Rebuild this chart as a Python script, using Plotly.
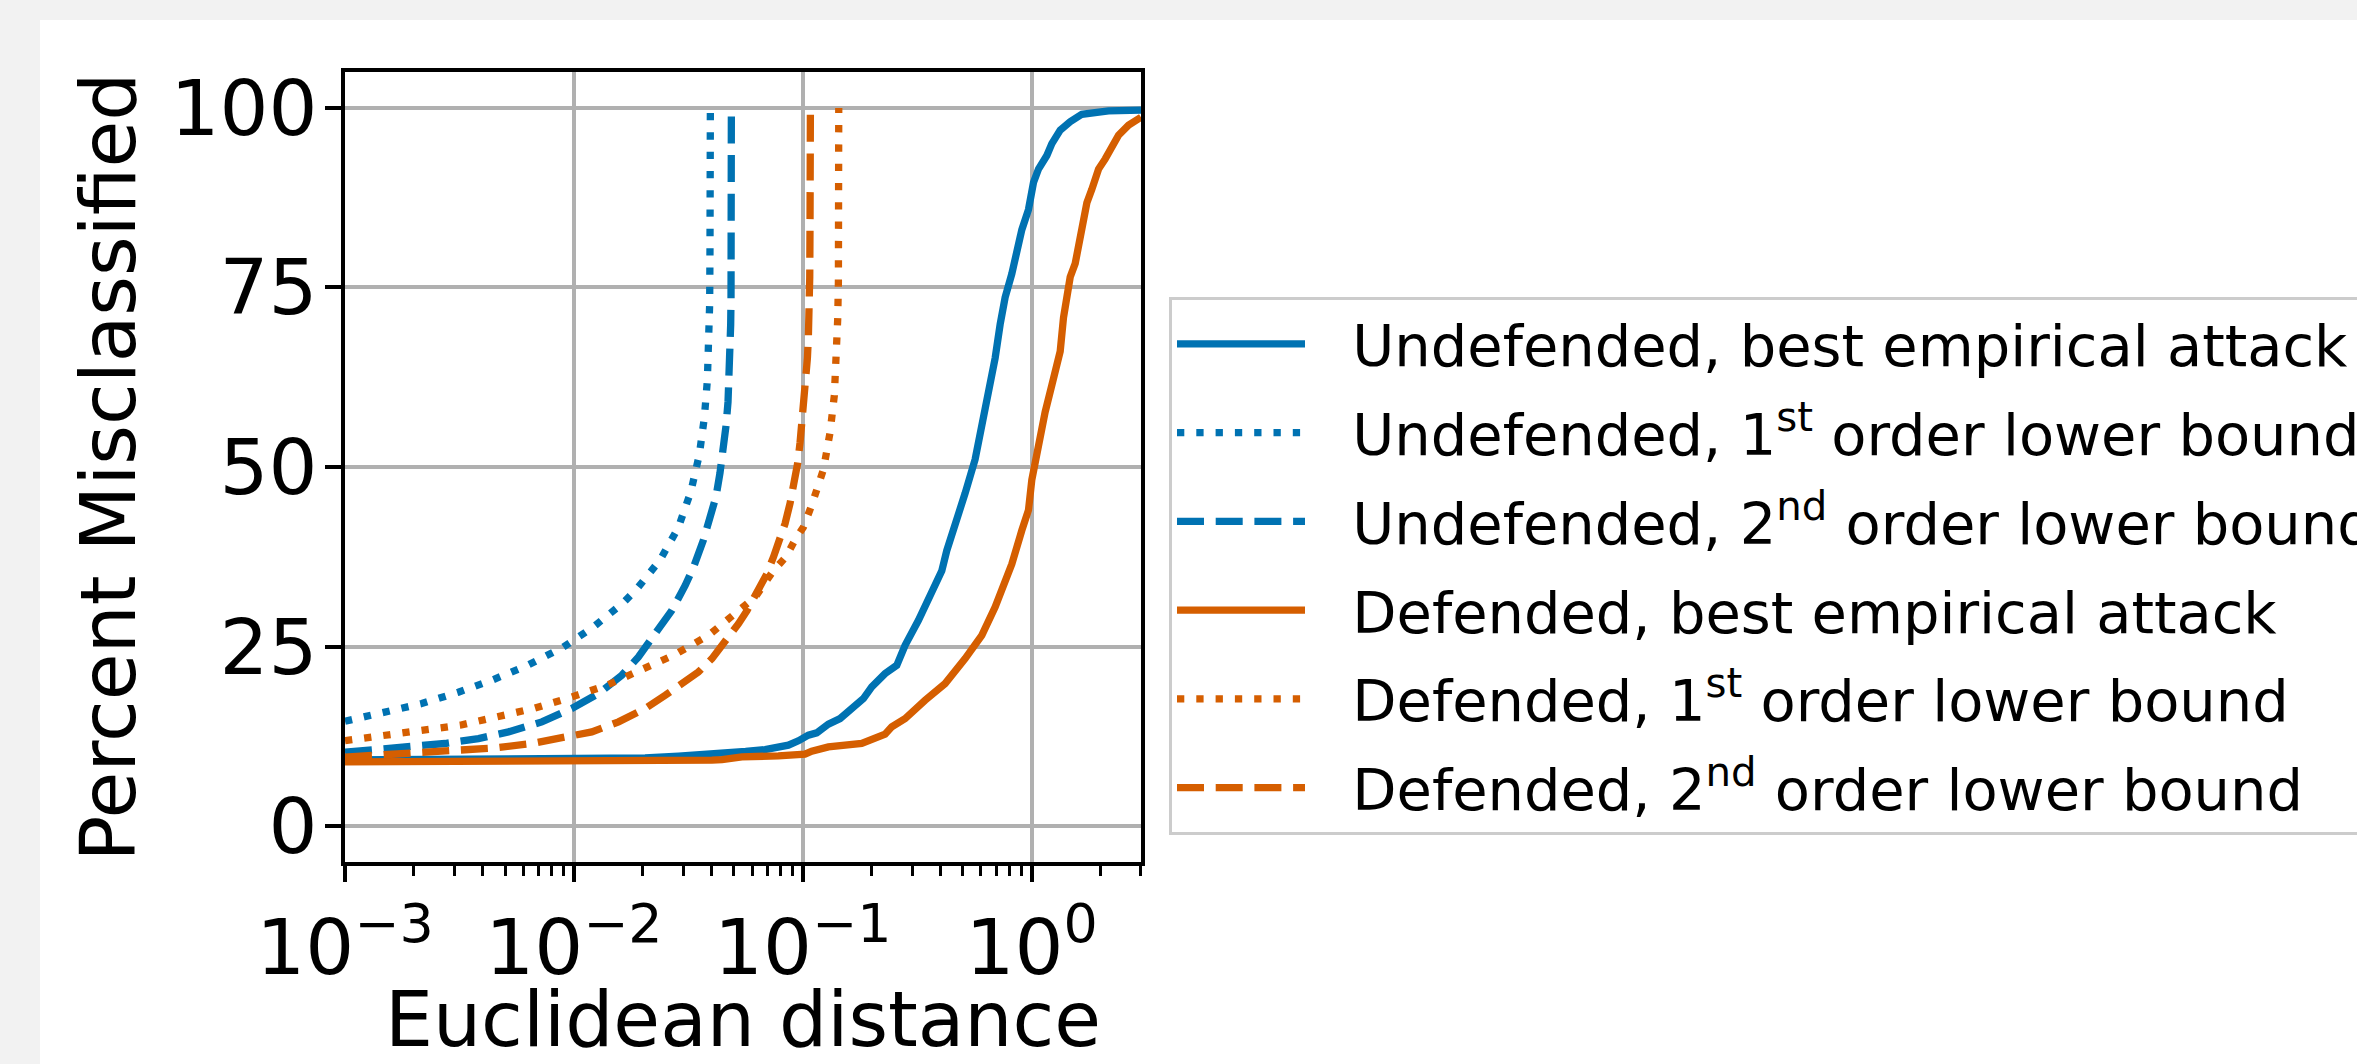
import plotly.graph_objects as go

# ---------------- data ----------------
undef_emp_x = [0.001, 0.005346, 0.01047, 0.02046, 0.02864, 0.04009, 0.0542, 0.05623, 0.06837, 0.08645,
               0.0956, 0.1057, 0.115, 0.1293, 0.1454, 0.1635, 0.1839, 0.2, 0.2287, 0.2572, 0.2797,
               0.3199, 0.3719, 0.4046, 0.4254, 0.4626, 0.5116, 0.5656, 0.605, 0.6578, 0.6919, 0.7276,
               0.7652, 0.8183, 0.8603, 0.9049, 0.9676, 1.0176, 1.07, 1.164, 1.224, 1.331, 1.472, 1.655,
               2.165, 2.928, 3.0]
undef_emp_y = [9.2, 9.27, 9.27, 9.5, 9.74, 10.01, 10.2, 10.4, 10.66, 11.27,
               11.87, 12.66, 12.98, 14.19, 14.97, 16.37, 17.76, 19.38, 21.23, 22.39, 25.17,
               28.65, 32.82, 35.54, 38.36, 41.65, 46.35, 51.05, 55.76, 60.46, 65.16, 69.86,
               73.62, 76.91, 80.21, 83.03, 85.85, 89.61, 91.49, 93.37, 95.02, 96.9, 98.07, 99.11,
               99.58, 99.67, 99.7]

undef_1st_x = [0.001, 0.001496, 0.002163, 0.003126, 0.004446, 0.006324, 0.008913, 0.01216, 0.01637,
               0.01871, 0.02377, 0.02858, 0.03243, 0.03532, 0.03715, 0.03828, 0.0389, 0.03917, 0.0393,
               0.03944, 0.03945]
undef_1st_y = [14.6, 15.76, 17.06, 18.64, 20.4, 22.44, 24.85, 27.72, 31.06,
               32.92, 37.04, 41.56, 46.59, 51.76, 56.93, 62.1, 67.28, 72.68, 80.44,
               88.43, 100.0]

undef_2nd_x = [0.001, 0.0014, 0.001954, 0.002735, 0.003828, 0.005176, 0.007244, 0.009795, 0.0128,
               0.01618, 0.01914, 0.02265, 0.02679, 0.03062, 0.03327, 0.03674, 0.0393, 0.04176, 0.04346,
               0.04495, 0.04618, 0.04711, 0.04775, 0.04807, 0.0484, 0.04856, 0.04873, 0.04873]
undef_2nd_y = [10.3, 10.66, 11.03, 11.5, 12.19, 13.12, 14.51, 16.37, 18.45,
               21.0, 23.55, 26.8, 30.04, 33.5, 36.0, 39.77, 43.06, 45.88, 49.17,
               52.46, 55.76, 59.05, 62.34, 66.1, 69.86, 73.62, 81.15, 100.0]

def_emp_x = [0.001, 0.01, 0.02046, 0.02864, 0.04009, 0.04436, 0.0542, 0.07816, 0.1022, 0.1094,
             0.1293, 0.1808, 0.2, 0.2287, 0.2445, 0.2797, 0.342, 0.4182, 0.5116, 0.605, 0.6918,
             0.7399, 0.8183, 0.9049, 0.9676, 1.0007, 1.035, 1.07, 1.144, 1.224, 1.331, 1.376,
             1.472, 1.548, 1.601, 1.655, 1.741, 1.83, 1.958, 2.094, 2.239, 2.394, 2.648, 2.928, 3.0]
def_emp_y = [8.95, 8.95, 9.04, 9.1, 9.18, 9.27, 9.64, 9.78, 10.01, 10.43,
             11.03, 11.5, 12.05, 12.8, 13.82, 14.97, 17.52, 19.84, 23.32, 26.56, 30.51,
             32.81, 36.48, 41.18, 44.0, 48.23, 50.58, 53.4, 57.64, 61.4, 66.1, 70.8,
             76.45, 78.33, 81.15, 83.97, 86.79, 88.67, 91.49, 92.9, 94.78, 96.19, 97.6, 98.54, 98.7]

def_1st_x = [0.001, 0.00152, 0.002198, 0.003184, 0.004603, 0.006653, 0.009616, 0.01393, 0.01945,
             0.02723, 0.03873, 0.05236, 0.06194, 0.0743, 0.08445, 0.09245, 0.1005, 0.1094, 0.1169,
             0.123, 0.1272, 0.1315, 0.1373, 0.1406, 0.142, 0.143, 0.1435, 0.1435]
def_1st_y = [11.9, 12.66, 13.21, 14.05, 15.21, 16.37, 17.9, 19.61, 21.7,
             23.78, 26.56, 29.81, 31.9, 35.54, 37.51, 39.86, 41.6, 44.71, 47.29,
             49.64, 52.23, 54.82, 59.99, 65.3, 70.57, 75.74, 86.32, 100.0]

def_2nd_x = [0.001, 0.001496, 0.002163, 0.003126, 0.004529, 0.006546, 0.009162, 0.01197, 0.01567,
             0.02046, 0.02506, 0.02958, 0.03499, 0.04009, 0.04581, 0.05236, 0.05702, 0.06501, 0.06952,
             0.07434, 0.07952, 0.08362, 0.08793, 0.09183, 0.09497, 0.09723, 0.0992, 0.1012, 0.1033,
             0.1047, 0.1057, 0.1064, 0.1072, 0.1075, 0.1079, 0.1079]
def_2nd_y = [9.6, 9.97, 10.25, 10.48, 10.89, 11.5, 12.42, 13.12, 14.51,
             16.37, 18.22, 19.84, 21.46, 23.32, 25.64, 28.19, 30.0, 33.19, 35.07,
             37.42, 39.77, 42.12, 44.94, 47.76, 50.58, 53.4, 56.23, 59.05, 61.87,
             65.16, 67.98, 70.8, 76.45, 83.97, 92.43, 100.0]

series_names = [
    "Undefended, best empirical attack",
    "Undefended, 1<sup>st</sup> order lower bound",
    "Undefended, 2<sup>nd</sup> order lower bound",
    "Defended, best empirical attack",
    "Defended, 1<sup>st</sup> order lower bound",
    "Defended, 2<sup>nd</sup> order lower bound",
]

x_tick_vals = [0.001, 0.01, 0.1, 1]
x_tick_text = ["10<sup>\u22123</sup>", "10<sup>\u22122</sup>", "10<sup>\u22121</sup>", "10<sup>0</sup>"]
x_minor_vals = [m * d for d in [0.001, 0.01, 0.1, 1] for m in range(2, 10) if m * d <= 3.0]
y_tick_vals = [0, 25, 50, 75, 100]

# ---------------- styling ----------------
BLUE = "#0072B2"
ORANGE = "#D55E00"
LW = 7.3
DOT = "7.3px,12px"
DASH = "27px,11.7px"
FONT = "DejaVu Sans"

W, H = 2357, 1064
ML, MR, MT, MB = 345, 1216, 72, 202
PW, PH = W - ML - MR, H - MT - MB

series = [
    (undef_emp_x, undef_emp_y, BLUE, "solid"),
    (undef_1st_x, undef_1st_y, BLUE, DOT),
    (undef_2nd_x, undef_2nd_y, BLUE, DASH),
    (def_emp_x, def_emp_y, ORANGE, "solid"),
    (def_1st_x, def_1st_y, ORANGE, DOT),
    (def_2nd_x, def_2nd_y, ORANGE, DASH),
]

fig = go.Figure()
for (xs, ys, col, dash), name in zip(series, series_names):
    fig.add_trace(go.Scatter(
        x=xs, y=ys, mode="lines", name="\u00a0\u00a0\u200a" + name, legendgroup=name,
        line=dict(color=col, width=LW, dash=dash),
    ))

def px_x(p):
    return (p - ML) / PW

def px_y(p):
    return (H - MB - p) / PH

# white figure panel on light-grey page
fig.add_shape(type="rect", xref="paper", yref="paper",
              x0=px_x(40), x1=px_x(W + 50), y0=px_y(H + 50), y1=px_y(20),
              fillcolor="white", line=dict(width=0), layer="below")

axis_common = dict(
    showline=True, linecolor="black", linewidth=4, mirror=True,
    ticks="outside", ticklen=16, tickwidth=4, tickcolor="black",
    showgrid=True, gridcolor="#b0b0b0", gridwidth=3.9, zeroline=False,
    tickfont=dict(family=FONT, size=77, color="black"),
)

fig.update_xaxes(
    type="log", range=[-3, 0.4772],
    tickmode="array", tickvals=x_tick_vals, ticktext=x_tick_text,
    title=dict(text="Euclidean distance", font=dict(family=FONT, size=76, color="black"), standoff=20),
    minor=dict(tickmode="array", tickvals=x_minor_vals, ticks="outside", ticklen=10,
               tickwidth=3, tickcolor="black", showgrid=False),
    **axis_common,
)
fig.update_yaxes(
    range=[-5, 105], tickmode="array", tickvals=y_tick_vals, ticklabelstandoff=-8,
    title=dict(text="Percent Misclassified", font=dict(family=FONT, size=76, color="black"), standoff=11),
    **axis_common,
)

fig.update_layout(
    width=W, height=H,
    margin=dict(l=ML, r=MR, t=MT, b=MB, autoexpand=False),
    paper_bgcolor="#f2f2f2", plot_bgcolor="white",
    font=dict(family=FONT, color="black"),
    showlegend=True,
    legend=dict(
        x=px_x(1169), y=px_y(297), xanchor="left", yanchor="top",
        bgcolor="white", bordercolor="#cccccc", borderwidth=3,
        font=dict(family=FONT, size=57.5, color="black"),
        itemwidth=128, tracegroupgap=11, traceorder="grouped",
    ),
)

fig.write_html("out.html", config={"displayModeBar": False},
               post_script="document.body.style.margin='0px';")
